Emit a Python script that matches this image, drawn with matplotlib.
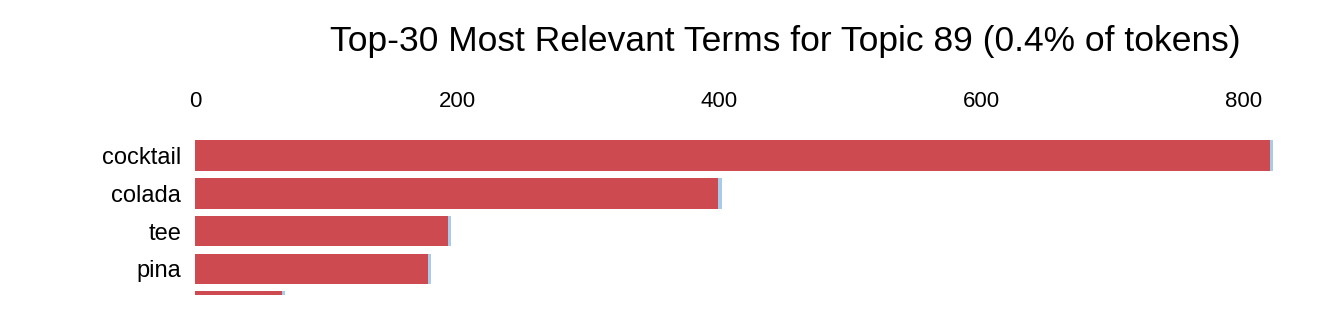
import matplotlib
matplotlib.use("Agg")
import matplotlib.pyplot as plt

terms = ["cocktail", "colada", "tee", "pina", ""]
topic_freq = [820, 399, 193, 178, 66]
overall_freq = [822, 402, 195, 180, 69]
ticks = [0, 200, 400, 600, 800]
title = "Top-30 Most Relevant Terms for Topic 89 (0.4% of tokens)"

plt.rcParams['font.family'] = ['Liberation Sans', 'DejaVu Sans']

W, H = 1324, 309
fig = plt.figure(figsize=(W / 100, H / 100), dpi=100)
ax_left = 195 / W
ax_top_px, ax_bot_px = 130, 295
ax = fig.add_axes([ax_left, 1 - ax_bot_px / H, (1283 - 195) / W, (ax_bot_px - ax_top_px) / H])

y = list(range(len(terms)))
ax.barh(y, overall_freq, height=0.81, color="#a9cbe8", zorder=1)
ax.barh(y, topic_freq, height=0.81, color="#ce4a51", zorder=2)

ax.set_xticks(ticks)
ax.set_xticklabels([str(t) for t in ticks])
ax.xaxis.tick_top()
ax.tick_params(axis='x', length=0, pad=13, labelsize=16, colors="black")
ax.set_yticks(y[:4])
ax.set_yticklabels(terms[:4])
ax.tick_params(axis='y', length=0, pad=10, labelsize=17, colors="black")
for s in ax.spines.values():
    s.set_visible(False)

ax.set_xlim(0, 830)
step = 37.7
c0 = 155.7
ax.set_ylim((ax_bot_px - c0) / step, (ax_top_px - c0) / step)

fig.text(785 / W, 1 - 41 / H, title, ha="center", va="center", fontsize=25.5, color="black")

fig.savefig("out.png", dpi=100)
